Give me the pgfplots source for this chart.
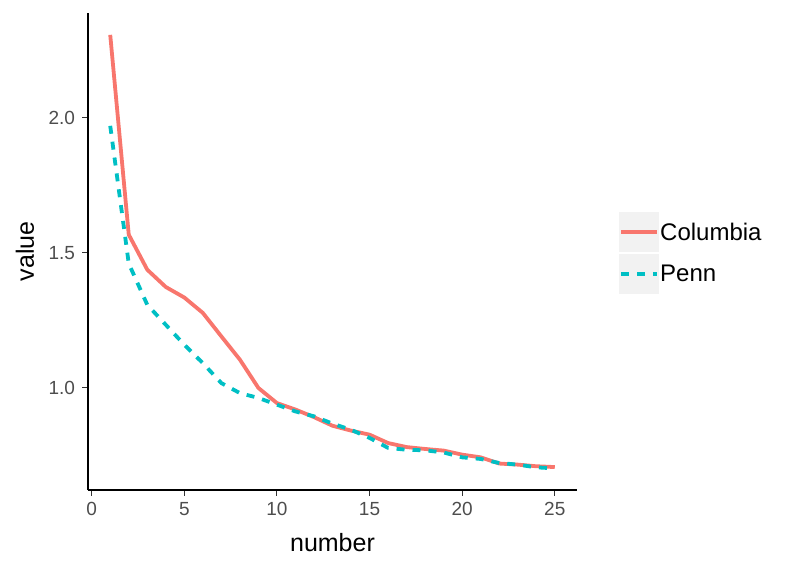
\documentclass[border=0pt]{standalone}
\usepackage{fontspec}
\setmainfont{Liberation Sans}
\usepackage{pgfplots}
\pgfplotsset{compat=1.18}
\definecolor{colA}{HTML}{F8766D}
\definecolor{colB}{HTML}{00BFC4}
\definecolor{tickgray}{HTML}{4D4D4D}
\definecolor{tickline}{HTML}{333333}
\definecolor{keybg}{HTML}{F2F2F2}
\pgfplotstableread{
x y
1 2.307
2 1.567
3 1.437
4 1.373
5 1.334
6 1.277
7 1.190
8 1.104
9 0.999
10 0.943
11 0.919
12 0.891
13 0.859
14 0.841
15 0.826
16 0.795
17 0.780
18 0.773
19 0.767
20 0.752
21 0.742
22 0.719
23 0.715
24 0.709
25 0.706
}\columbia
\pgfplotstableread{
x y
1 1.970
2 1.460
3 1.307
4 1.233
5 1.159
6 1.091
7 1.017
8 0.980
9 0.962
10 0.937
11 0.912
12 0.894
13 0.867
14 0.844
15 0.814
16 0.777
17 0.770
18 0.768
19 0.760
20 0.742
21 0.736
22 0.721
23 0.715
24 0.705
25 0.701
}\penn
\begin{document}
\begin{tikzpicture}
\useasboundingbox (-88pt,-80pt) rectangle (701pt,490pt);
\begin{axis}[
  at={(0pt,0pt)}, anchor=south west,
  scale only axis, width=489pt, height=477pt,
  xmin=-0.2, xmax=26.2, ymin=0.621, ymax=2.388,
  axis x line*=bottom, axis y line*=left,
  axis line style={black, line width=1.1pt},
  xtick={0,5,10,15,20,25}, ytick={1,1.5,2},
  yticklabel style={xshift=-4pt, /pgf/number format/.cd, fixed, fixed zerofill, precision=1},
  xticklabel style={yshift=-3pt},
  /pgf/number format/assume math mode=true,
  tick align=outside, major tick length=5.5pt,
  tick style={tickline, line width=1.1pt},
  ticklabel style={font=\fontsize{19}{22}\selectfont, text=tickgray},
  xlabel={number}, ylabel={value},
  label style={font=\fontsize{25}{30}\selectfont, text=black},
  xlabel style={at={(axis description cs:0.5,-0.1279)}, anchor=base},
  ylabel style={at={(axis description cs:-0.1288,0.5)}, anchor=center},
  legend style={at={(axis description cs:1.0859,0.5828)}, anchor=north west,
    draw=none, fill=none, inner sep=0pt, row sep=2pt, column sep=1pt,
    nodes={inner sep=0pt},
    font=\fontsize{24}{28}\selectfont},
  legend cell align=left,
  legend image code/.code={\path[fill=keybg, draw=none, solid] (0pt,-20pt) rectangle (40pt,20pt);
    \draw[#1] (2pt,0pt) -- (38pt,0pt);},
]
\addplot[colA, line width=3.8pt, line join=round] table[x=x,y=y] {\columbia};
\addlegendentry{Columbia}
\addplot[colB, line width=3.8pt, line join=round, dash pattern=on 8pt off 8pt] table[x=x,y=y] {\penn};
\addlegendentry{Penn}
\end{axis}
\end{tikzpicture}
\end{document}
